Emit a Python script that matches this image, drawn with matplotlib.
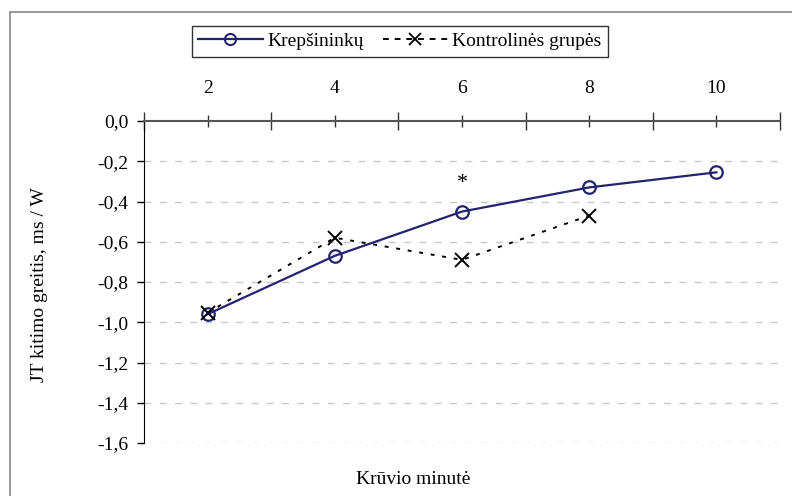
import matplotlib.pyplot as plt
from matplotlib.lines import Line2D
from matplotlib.patches import Rectangle
from matplotlib.ticker import FuncFormatter

plt.rcParams['font.family'] = ['Liberation Serif', 'DejaVu Serif']

# duomenys
minutes = ['2', '4', '6', '8', '10']
krepsininku = [-0.96, -0.67, -0.45, -0.33, -0.255]
kontroline = [-0.953, -0.58, -0.69, -0.47]
star_pos = (3, -0.31)

fig = plt.figure(figsize=(7.92, 4.96), dpi=100)
ax = fig.add_axes([144 / 792, 1 - 443 / 496, 636 / 792, 322 / 496])

x1 = list(range(1, len(krepsininku) + 1))
x2 = list(range(1, len(kontroline) + 1))
navy = '#23236f'
ax.plot(x1, krepsininku, color=navy, lw=1.6, marker='o', ms=9,
        mfc='none', mec=navy, mew=1.6, zorder=3)
ax.plot(x2, kontroline, color='black', lw=1.4, ls=(0, (2, 4)), marker='x', ms=10,
        mec='black', mew=1.4, zorder=3)
ax.text(star_pos[0], star_pos[1], '*', ha='center', va='center', fontsize=16)

ax.set_xlim(0.5, 5.5)
ax.set_ylim(-1.6, 0)
ax.xaxis.tick_top()
ax.set_xticks(x1)
ax.set_xticklabels(minutes, fontsize=14)
ax.set_xticks([0.5 + i for i in range(6)], minor=True)
ax.tick_params(axis='x', which='major', direction='inout', length=9, width=1, pad=13, color='#333333')
ax.tick_params(axis='x', which='minor', direction='inout', length=13, width=1, color='#333333')
ax.set_yticks([-1.6, -1.4, -1.2, -1.0, -0.8, -0.6, -0.4, -0.2, 0.0])
ax.yaxis.set_major_formatter(FuncFormatter(lambda v, p: f'{v:.1f}'.replace('.', ',').replace('-0,0', '0,0')))
ax.tick_params(axis='y', direction='out', length=5, width=1, labelsize=14, pad=6)

for v in [-0.2, -0.4, -0.6, -0.8, -1.0, -1.2, -1.4, -1.6]:
    ax.axhline(v, color='#c8c8c8', lw=1, ls=(0, (5, 6)), zorder=1)

for s in ['right', 'bottom']:
    ax.spines[s].set_visible(False)
ax.spines['top'].set_color('#555555')
ax.spines['top'].set_linewidth(1.5)
ax.spines['left'].set_color('black')

fig.text(413 / 792, 1 - 480 / 496, 'Krūvio minutė', ha='center', va='center', fontsize=14)
fig.text(40 / 792, 1 - 285 / 496, 'JT kitimo greitis, ms / W', ha='center', va='center',
         rotation=90, fontsize=14)

# išorinis rėmelis
fig.patches.append(Rectangle((10 / 792, -0.1), 1.2, 1 - 12 / 496 + 0.1, transform=fig.transFigure,
                             fill=False, edgecolor='#888888', lw=1.2))

handles = [
    Line2D([], [], color=navy, lw=1.6, marker='o', ms=8, mfc='none', mec=navy, mew=1.5),
    Line2D([], [], color='black', lw=1.4, ls=(0, (3, 3)), marker='x', ms=9, mew=1.3),
]
leg = fig.legend(handles, ['Krepšininkų', 'Kontrolinės grupės'], loc='center',
                 bbox_to_anchor=(400 / 792, 1 - 41.5 / 496), ncol=2, fontsize=14,
                 frameon=True, fancybox=False, edgecolor='black', handlelength=3.3,
                 handletextpad=0.25, columnspacing=1.0, borderpad=0.35, borderaxespad=0)
leg.get_frame().set_linewidth(1.0)

fig.savefig('out.png', dpi=100)
